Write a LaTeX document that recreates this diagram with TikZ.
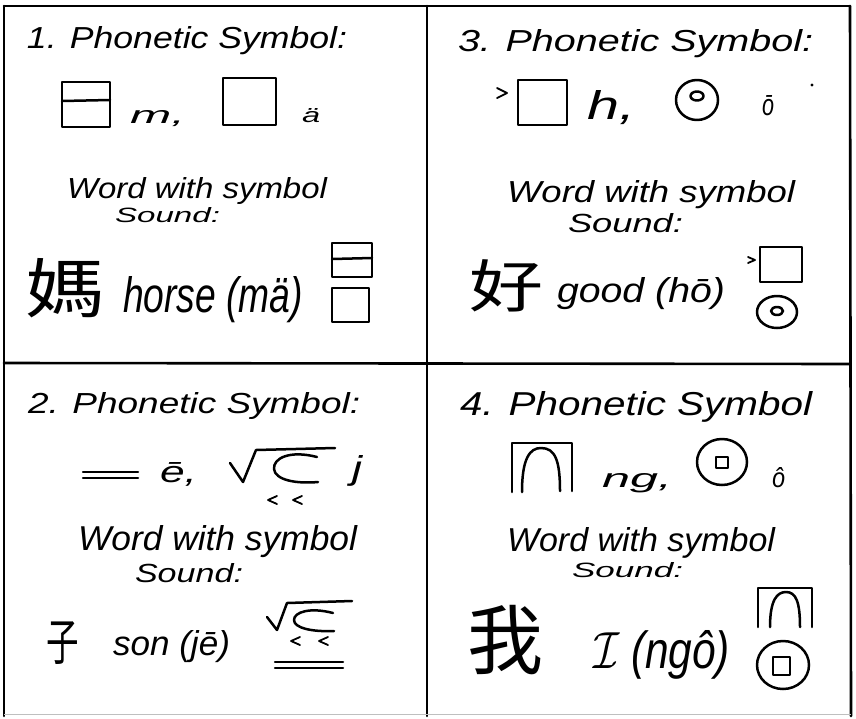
\documentclass[tikz,border=0pt]{standalone}
\usepackage{fontspec}
\setmainfont{Liberation Sans}
\newfontfamily\cjk{Noto Sans CJK SC}
\tikzset{
  ink/.style={line width=2.5pt, line cap=round, line join=round},
  thinink/.style={line width=1.8pt, line cap=round, line join=round},
  frame/.style={line width=2.6pt, line cap=round},
  lbl/.style={anchor=base west, inner sep=0pt, outer sep=0pt},
  hz/.style={inner sep=0pt}
}
\newcommand{\fitwh}[3]{\resizebox{#1pt}{#2pt}{\itshape #3}}
\begin{document}
\begin{tikzpicture}[x=1pt,y=-1pt]
\useasboundingbox (0,0) rectangle (856,718);
\fill[white] (0,0) rectangle (856,718);
% grid
\draw[frame] (4,6) -- (850,6);
\draw[frame] (4,6) -- (4,716);
\draw[frame] (850,6) -- (851,716);
\draw[frame] (427,6) -- (427,716);
\draw[frame] (4,363) -- (850,364);
\draw[line width=1pt, black!25] (4,714) -- (851,714);

% ===== cell 1 =====
\node[lbl] (t1) at (27,48) {\fitwh{320}{22}{1. Phonetic Symbol:}};
\draw[ink] (62,82) rectangle (110,127);
\draw[ink] (62,101) -- (110,100);
\node[lbl] (m1) at (130,123) {\fitwh{55}{13}{m,}};
\draw[ink] (223,78) rectangle (276,125);
\node[lbl] (a1) at (302,122) {\fitwh{18}{14}{ä}};
\node[lbl] (w1) at (67,198) {\fitwh{260}{21}{Word with symbol}};
\node[lbl] (s1) at (115,222) {\fitwh{105}{15}{Sound:}};
\node[hz] (c1) at (65,288) {\scalebox{1.25}[1]{\cjk\fontsize{64}{64}\selectfont 媽}};
\node[lbl] (h1) at (123,312) {\fitwh{180}{36}{horse (mä)}};
\draw[ink] (332,243) rectangle (372,277);
\draw[ink] (332,259) -- (372,258);
\draw[ink] (332,288) rectangle (369,322);

% ===== cell 3 =====
\node[lbl] (t3) at (458,51) {\fitwh{355}{22}{3. Phonetic Symbol:}};
\draw[thinink] (497,88) -- (507,93) -- (497,98);
\draw[ink] (518,80) rectangle (567,125);
\node[lbl] (h3) at (587,119) {\fitwh{48}{29}{h,}};
\draw[ink] (697,100) ellipse [x radius=21, y radius=20];
\draw[ink] (697,96) ellipse [x radius=6.5, y radius=4.5];
\node[lbl] (o3) at (762,115) {\fitwh{12}{20}{ō}};
\fill (812,85) circle [radius=1.6];
\node[lbl] (w3) at (507,202) {\fitwh{288}{22}{Word with symbol}};
\node[lbl] (s3) at (568,232) {\fitwh{115}{19}{Sound:}};
\node[hz] (c3) at (507,286) {\scalebox{1.3}[1]{\cjk\fontsize{57}{57}\selectfont 好}};
\node[lbl] (g3) at (557,302) {\fitwh{168}{25}{good (hō)}};
\draw[thinink] (748,257) -- (755,260) -- (748,263);
\draw[ink] (760,247) rectangle (802,282);
\draw[ink] (777,312) ellipse [x radius=20, y radius=16];
\draw[ink] (777,311) ellipse [x radius=6, y radius=4];

% ===== cell 2 =====
\node[lbl] (t2) at (28,413) {\fitwh{332}{21}{2. Phonetic Symbol:}};
\draw[ink] (83,472) -- (138,472);
\draw[ink] (83,478) -- (138,478);
\node[lbl] (e2) at (160,482) {\fitwh{37}{20}{ē,}};
\draw[ink] (230,463) -- (243,482) -- (256,450) -- (335,448);
\draw[ink] (317,457) .. controls (290,450) and (273,458) .. (274,469)
                     .. controls (275,480) and (296,484) .. (318,482);
\draw[thinink] (277,496) -- (268,500) -- (277,504);
\draw[thinink] (302,496) -- (293,500) -- (302,504);
\node[lbl] (j2) at (352,479) {\fitwh{10}{24}{j}};
\node[lbl] (w2) at (78,550) {\fitwh{279}{25}{Word with symbol}};
\node[lbl] (s2) at (135,582) {\fitwh{108}{19}{Sound:}};
\node[hz] (c2) at (63,643) {\scalebox{0.65}[1]{\cjk\fontsize{50}{50}\selectfont 子}};
\node[lbl] (n2) at (113,655) {\fitwh{117}{25}{son (jē)}};
\draw[ink] (267,617) -- (277,630) -- (287,603) -- (352,601);
\draw[ink] (333,613) .. controls (310,607) and (294,612) .. (294,620)
                     .. controls (294,628) and (312,632) .. (334,631);
\draw[thinink] (300,637) -- (291,641) -- (300,645);
\draw[thinink] (328,637) -- (319,641) -- (328,645);
\draw[ink] (275,662) -- (343,662);
\draw[ink] (275,668) -- (343,668);

% ===== cell 4 =====
\node[lbl] (t4) at (460,415) {\fitwh{352}{24}{4. Phonetic Symbol}};
\draw[ink] (512,492) -- (512,443) -- (572,443) -- (572,491);
\draw[ink] (522,492) .. controls (522,458) and (530,448) .. (541,448)
                     .. controls (555,448) and (560,460) .. (560,491);
\node[lbl] (n4) at (602,487) {\fitwh{70}{14}{ng,}};
\draw[ink] (722,462) ellipse [x radius=25, y radius=23];
\draw[thinink] (716,457) rectangle (728,468);
\node[lbl] (o4) at (772,487) {\fitwh{13}{20}{ô}};
\node[lbl] (w4) at (507,551) {\fitwh{268}{24}{Word with symbol}};
\node[lbl] (s4) at (572,577) {\fitwh{111}{15}{Sound:}};
\node[hz] (c4) at (505,640) {\cjk\fontsize{76}{76}\selectfont 我};
\node[lbl] (i4) at (593,668) {\resizebox{137pt}{38pt}{\(\mathcal{I}\) \itshape (ngô)}};
\draw[ink] (758,627) -- (758,588) -- (812,588) -- (812,627);
\draw[ink] (770,627) .. controls (770,600) and (777,592) .. (786,592)
                     .. controls (796,592) and (800,602) .. (800,627);
\draw[ink] (783,665) ellipse [x radius=26, y radius=24];
\draw[ink] (773,657) rectangle (790,675);
\end{tikzpicture}
\end{document}
